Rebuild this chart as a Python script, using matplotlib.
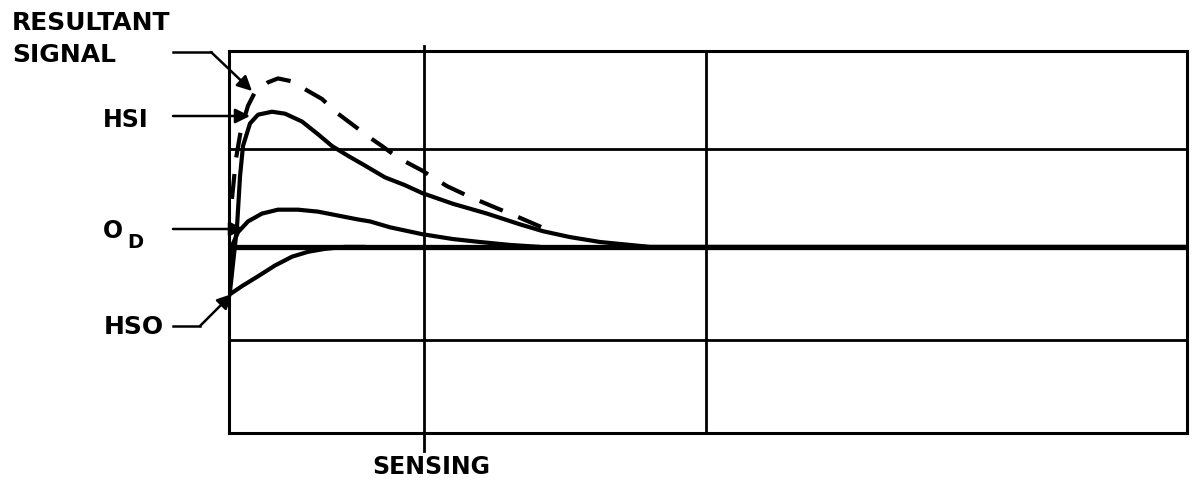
import numpy as np
import matplotlib.pyplot as plt
from matplotlib.lines import Line2D

# curve samples (x: 0-100 across the box, y: baseline = 0,
# one grid row = 1)
hsi_x = [0.10, 0.84, 1.15, 1.46, 2.19, 3.03, 4.49, 5.85, 7.62, 9.29, 10.75, 12.42,
         14.2, 16.28, 18.37, 20.15, 23.38, 26.93, 30.38, 32.78, 35.6, 38.73,
         41.86, 43.95, 100]
hsi_y = [-0.46, 0.21, 0.72, 1.03, 1.26, 1.35, 1.38, 1.36, 1.28, 1.15, 1.03, 0.93,
         0.83, 0.71, 0.63, 0.55, 0.44, 0.34, 0.23, 0.16, 0.10, 0.05,
         0.02, 0.0, 0.0]

res_x = [0.31, 0.73, 1.25, 1.98, 2.71, 4.07, 5.11, 6.58, 7.93, 9.71, 11.38, 13.15,
         14.93, 15.97, 17.64, 20.15, 22.76, 25.16, 28.08, 30.06, 32.67]
res_y = [0.49, 0.90, 1.20, 1.44, 1.58, 1.68, 1.72, 1.69, 1.61, 1.51, 1.36, 1.23,
         1.10, 1.03, 0.91, 0.78, 0.62, 0.51, 0.39, 0.31, 0.20]

od_x = [0.10, 0.31, 0.94, 1.98, 3.44, 5.11, 7.2, 9.29, 11.38, 13.47, 14.72,
        16.81, 20.15, 23.38, 26.2, 29.33, 32.46]
od_y = [-0.38, 0.01, 0.15, 0.26, 0.34, 0.38, 0.38, 0.36, 0.32, 0.28, 0.26,
        0.20, 0.13, 0.08, 0.05, 0.02, 0.0]

hso_x = [0.0, 1.36, 3.03, 4.8, 6.58, 8.25, 10.02, 12.11, 14.2]
hso_y = [-0.49, -0.40, -0.30, -0.19, -0.10, -0.05, -0.02, 0.0, 0.0]

grid_x = [20.4, 49.8]
grid_y = [1.0, -0.95]

W, H = 1198, 485
fig = plt.figure(figsize=(W / 100, H / 100), dpi=100)
ax = fig.add_axes([229 / W, 1 - 434 / H, (1187 - 229) / W, (434 - 52) / H])
ax.set_xlim(0, 100)
ax.set_ylim(-1.9, 2.0)
ax.set_xticks([])
ax.set_yticks([])
for s in ax.spines.values():
    s.set_linewidth(2.2)
    s.set_color('black')

ax.axhline(0, color='black', lw=3.8, zorder=2)
for gy in grid_y:
    ax.axhline(gy, color='black', lw=2.0, zorder=1)
ax.axvline(grid_x[1], color='black', lw=2.0, zorder=1)
# sensing line runs a little past the box
ax.plot([grid_x[0], grid_x[0]], [-2.08, 2.05], color='black', lw=2.0,
        clip_on=False, zorder=1)

lw = 3.0
kw = dict(color='black', lw=lw, solid_capstyle='round', solid_joinstyle='round', zorder=3)
ax.plot(hsi_x, hsi_y, **kw)
ax.plot(od_x, od_y, **kw)
ax.plot(hso_x, hso_y, **kw)
ax.plot(res_x, res_y, color='black', lw=lw, dashes=(6, 4), dash_capstyle='butt', zorder=3)


def fpx(x, y):
    # figure pixel, measured from top-left
    return (x, H - y)


def leader(pts):
    xs = [p[0] for p in pts[:-1]]
    ys = [H - p[1] for p in pts[:-1]]
    fig.add_artist(Line2D(np.array(xs) / W, np.array(ys) / H, color='black', lw=1.8))
    ax.annotate('', xy=fpx(*pts[-1]), xycoords='figure pixels',
                xytext=fpx(*pts[-2]), textcoords='figure pixels',
                arrowprops=dict(arrowstyle='-|>', color='black', lw=1.8,
                                mutation_scale=22, shrinkA=0, shrinkB=0))


font = dict(fontfamily='DejaVu Sans', fontweight='bold', color='black')

fig.text(12 / W, 1 - 23 / H, 'RESULTANT', fontsize=18, va='center', ha='left', **font)
fig.text(12 / W, 1 - 55 / H, 'SIGNAL', fontsize=18, va='center', ha='left', **font)
leader([(173, 53), (211, 53), (252, 92)])

fig.text(103 / W, 1 - 120 / H, 'HSI', fontsize=17, va='center', ha='left', **font)
leader([(173, 117), (250, 117)])

fig.text(103 / W, 1 - 231 / H, 'O', fontsize=17, va='center', ha='left', **font)
fig.text(127 / W, 1 - 243 / H, 'D', fontsize=14, va='center', ha='left', **font)
leader([(173, 230), (244, 230)])

fig.text(104 / W, 1 - 327 / H, 'HSO', fontsize=18, va='center', ha='left', **font)
leader([(173, 327), (200, 327), (232, 295)])

fig.text(431 / W, 1 - 467 / H, 'SENSING', fontsize=17, va='center', ha='center', **font)

fig.savefig('out.png', dpi=100, facecolor='white')
